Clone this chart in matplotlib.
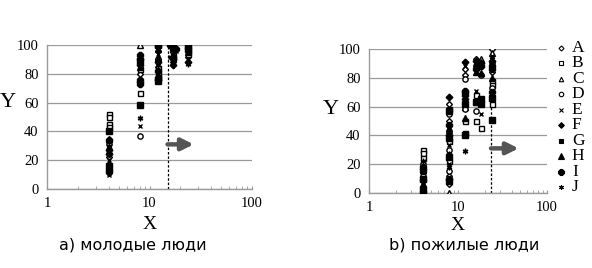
import matplotlib
matplotlib.use("Agg")
import matplotlib.pyplot as plt
from matplotlib.ticker import FixedLocator, LogLocator, NullFormatter

# -----------------------------
# Data
# -----------------------------
series = ["A", "B", "C", "D", "E", "F", "G", "H", "I", "J"]

# young people: x positions of the columns and y values per series
young_x = {
    "A": [4, 4, 4, 8, 8, 12, 12, 17, 17, 24],
    "B": [4, 4, 4, 4, 8, 8, 12, 12, 12, 17, 17, 24, 24],
    "C": [4, 8, 12, 17, 24],
    "D": [4, 4, 8, 8, 12, 17, 24],
    "E": [4, 4, 8, 12, 16, 18, 24],
    "F": [4, 4, 8, 8, 12, 12, 17, 17, 24],
    "G": [4, 4, 8, 8, 12, 12, 17, 24],
    "H": [4, 4, 8, 12, 12, 17, 24],
    "I": [4, 4, 4, 8, 8, 8, 8, 12, 12, 12, 16, 18, 24, 24],
    "J": [4, 4, 8, 12, 17, 24],
}
young_y = {
    "A": [28, 25, 22, 88, 80, 96, 85, 95, 88, 92],
    "B": [52, 50, 45, 43, 83, 67, 84, 80, 78, 93, 91, 96, 94],
    "C": [35, 100, 92, 100, 100],
    "D": [33, 31, 37, 76, 90, 99, 99],
    "E": [20, 10, 44, 94, 92, 96, 90],
    "F": [27, 24, 86, 74, 88, 76, 90, 86, 88],
    "G": [40, 16, 58, 89, 100, 75, 98, 97],
    "H": [18, 15, 85, 97, 90, 94, 95],
    "I": [34, 13, 12, 93, 90, 76, 73, 99, 82, 77, 100, 97, 100, 98],
    "J": [30, 11, 49, 86, 89, 87],
}

# elderly people
old_x = {
    "A": [4, 4, 8, 8, 8, 8, 12, 12, 16, 24, 24],
    "B": [4, 4, 4, 8, 8, 8, 12, 12, 16, 16, 18, 24, 24, 24],
    "C": [4, 8, 8, 12, 16, 18, 24],
    "D": [4, 4, 8, 8, 8, 12, 12, 16, 16, 18, 24, 24],
    "E": [4, 8, 8, 12, 16, 18, 24],
    "F": [4, 8, 8, 12, 12, 16, 18, 24],
    "G": [4, 4, 8, 8, 8, 8, 12, 12, 16, 18, 18, 24, 24],
    "H": [4, 8, 12, 16, 18, 24],
    "I": [4, 4, 4, 4, 8, 8, 12, 12, 12, 16, 18, 24, 24, 24],
    "J": [4, 8, 8, 12, 16, 18, 24],
}
old_y = {
    "A": [14, 8, 62, 50, 12, 6, 86, 82, 93, 100, 84],
    "B": [30, 28, 24, 58, 36, 22, 42, 50, 68, 50, 45, 78, 62, 75],
    "C": [2, 0, 45, 60, 90, 93, 97],
    "D": [20, 12, 55, 30, 15, 79, 58, 57, 87, 82, 90, 73],
    "E": [5, 33, 20, 88, 71, 55, 95],
    "F": [17, 67, 40, 91, 65, 92, 90, 92],
    "G": [10, 3, 57, 38, 25, 8, 62, 40, 63, 65, 62, 66, 51],
    "H": [6, 44, 52, 84, 83, 80],
    "I": [18, 15, 9, 1, 47, 10, 71, 68, 70, 86, 88, 88, 70, 86],
    "J": [22, 18, 27, 29, 89, 91, 93],
}

thr_young = 15
thr_old = 23.5
arrow_y = 31
captions = ["a) молодые люди", "b) пожилые люди"]

# marker style per series
styles = {
    "A": dict(marker="D", mfc="white", ms=3.0),
    "B": dict(marker="s", mfc="white", ms=3.6),
    "C": dict(marker="^", mfc="white", ms=3.8),
    "D": dict(marker="o", mfc="white", ms=3.8),
    "E": dict(marker="x", mfc="black", ms=3.4),
    "F": dict(marker="D", mfc="black", ms=3.4),
    "G": dict(marker="s", mfc="black", ms=3.8),
    "H": dict(marker="^", mfc="black", ms=4.4),
    "I": dict(marker="8", mfc="black", ms=4.6),
    "J": dict(marker=(6, 2, 0), mfc="black", ms=4.0),
}

serif = ["Liberation Serif", "DejaVu Serif"]
grey = "#9a9a9a"

fig = plt.figure(figsize=(5.92, 2.68), dpi=100)
ax1 = fig.add_axes([47 / 592, 1 - 189 / 268, 205 / 592, 144 / 268])
ax2 = fig.add_axes([369 / 592, 1 - 193 / 268, 178 / 592, 144 / 268])


def style_axes(ax, xs, ys, thr, arrow_end, xpad):
    for s in series:
        ax.plot(xs[s], ys[s], linestyle="none", mec="black", mew=1.0,
                **styles[s], zorder=3)
    ax.set_xscale("log")
    ax.set_xlim(1, 100)
    ax.set_ylim(0, 100)
    ax.set_yticks([0, 20, 40, 60, 80, 100])
    ax.xaxis.set_major_locator(FixedLocator([1, 10, 100]))
    ax.set_xticklabels(["1", "10", "100"])
    ax.xaxis.set_minor_locator(LogLocator(base=10, subs=range(2, 10)))
    ax.xaxis.set_minor_formatter(NullFormatter())
    ax.grid(axis="y", color=grey, linewidth=0.9)
    ax.set_axisbelow(True)
    for side in ["top", "right"]:
        ax.spines[side].set_visible(False)
    for side in ["left", "bottom"]:
        ax.spines[side].set_color(grey)
        ax.spines[side].set_linewidth(1.0)
    ax.tick_params(axis="x", which="both", direction="in", length=2.5,
                   color=grey, pad=6)
    ax.tick_params(axis="y", length=0, pad=6)
    for lab in ax.get_xticklabels() + ax.get_yticklabels():
        lab.set_family(serif)
        lab.set_fontsize(10.5)
    ax.axvline(thr, color="black", linestyle=(0, (2, 1.5)), linewidth=0.9,
               zorder=2)
    ax.annotate("", xy=(arrow_end, arrow_y), xytext=(thr, arrow_y),
                arrowprops=dict(arrowstyle="-|>,head_length=0.7,head_width=0.35",
                                color="#555555", lw=3.2, shrinkA=0, shrinkB=0),
                zorder=4)
    ax.set_xlabel("X", family=serif, fontsize=14, labelpad=xpad)
    ax.set_ylabel("Y", family=serif, fontsize=16, rotation=0, labelpad=10,
                  va="center")


style_axes(ax1, young_x, young_y, thr_young, 27, 4)
style_axes(ax2, old_x, old_y, thr_old, 48, 2)
ax2.yaxis.set_label_coords(-0.215, 0.58)
ax1.yaxis.set_label_coords(-0.19, 0.6)

# -----------------------------
# Legend on the right
# -----------------------------
lax = fig.add_axes([550 / 592, 1 - 195 / 268, 42 / 592, 155 / 268])
lax.set_xlim(0, 1)
lax.set_ylim(9.5, -0.5)
lax.axis("off")
for i, s in enumerate(series):
    st = dict(styles[s])
    st["ms"] = st["ms"] * 0.85
    lax.plot([0.26], [i], linestyle="none", mec="black", mew=0.8, **st)
    lax.text(0.52, i, s, family=serif, fontsize=12.5, va="center", ha="left")

# -----------------------------
# Captions
# -----------------------------
fig.text(133 / 592, 1 - 245 / 268, captions[0], ha="center", va="center",
         fontsize=11.5, family="DejaVu Sans")
fig.text(464 / 592, 1 - 245 / 268, captions[1], ha="center", va="center",
         fontsize=11.5, family="DejaVu Sans")

fig.savefig("out.png", dpi=100)
